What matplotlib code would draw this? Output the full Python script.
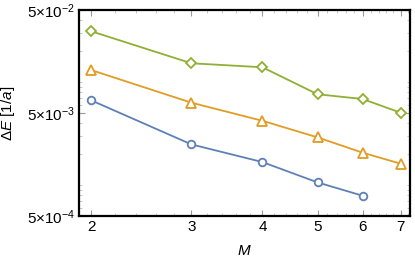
import numpy as np
import matplotlib
matplotlib.use("Agg")
import matplotlib.pyplot as plt
from matplotlib.ticker import FixedLocator, NullFormatter, FuncFormatter

plt.rcParams['font.family'] = ['Liberation Sans', 'DejaVu Sans']
plt.rcParams['mathtext.fontset'] = 'custom'
plt.rcParams['mathtext.rm'] = 'Liberation Sans'
plt.rcParams['mathtext.it'] = 'Liberation Sans:italic'
plt.rcParams['mathtext.sf'] = 'Liberation Sans'

# data
M_green = [2, 3, 4, 5, 6, 7]
dE_green = [0.0311, 0.0152, 0.0139, 0.0076, 0.00684, 0.00503]
M_orange = [2, 3, 4, 5, 6, 7]
dE_orange = [0.01306, 0.0063, 0.0042, 0.0029, 0.00206, 0.00161]
M_blue = [2, 3, 4, 5, 6]
dE_blue = [0.00664, 0.00248, 0.00167, 0.00106, 0.000787]

x_ticks = [2, 3, 4, 5, 6, 7]
y_ticks = [5e-4, 5e-3, 5e-2]
y_tick_labels = [r'$5{\times}10^{-4}$', r'$5{\times}10^{-3}$', r'$5{\times}10^{-2}$']

fig = plt.figure(figsize=(4.15, 2.64), dpi=100)
ax = fig.add_axes([79 / 415, 1 - 216 / 264, (410 - 79) / 415, (216 - 10) / 264])

ax.plot(M_blue, dE_blue, color='#5E81B5', lw=1.3, marker='o', ms=5.5,
        mfc='white', mec='#5E81B5', mew=1.3)
ax.plot(M_orange, dE_orange, color='#E19C24', lw=1.3, marker='^', ms=6.5,
        mfc='white', mec='#E19C24', mew=1.3)
ax.plot(M_green, dE_green, color='#8FB032', lw=1.3, marker='D', ms=5,
        mfc='white', mec='#8FB032', mew=1.3)

ax.set_xscale('log')
ax.set_yscale('log')
ax.set_xlim(1.904, 7.27)
ax.set_ylim(5e-4, 5e-2)

ax.xaxis.set_major_locator(FixedLocator(x_ticks))
ax.xaxis.set_major_formatter(FuncFormatter(lambda v, p: f"{v:g}"))
minor_x = [v for v in np.arange(2.0, 7.21, 0.2) if abs(v - round(v)) > 1e-6]
ax.xaxis.set_minor_locator(FixedLocator(minor_x))
ax.xaxis.set_minor_formatter(NullFormatter())

ax.yaxis.set_major_locator(FixedLocator(y_ticks))
ax.set_yticklabels(y_tick_labels)
minor_y = [k * 10.0 ** e for e in (-4, -3, -2) for k in range(1, 10)]
minor_y = [v for v in minor_y if 5e-4 < v < 5e-2 and v not in y_ticks]
ax.yaxis.set_minor_locator(FixedLocator(minor_y))
ax.yaxis.set_minor_formatter(NullFormatter())

ax.tick_params(which='major', direction='in', length=4, width=0.8, color='#999999',
               top=True, right=True, labelsize=11, pad=3)
ax.tick_params(which='minor', direction='in', length=2, width=0.6, color='#bbbbbb',
               top=True, right=True)

for s in ax.spines.values():
    s.set_linewidth(1.6)
    s.set_color('black')

ax.set_xlabel(r'$\mathit{M}$', fontsize=11, labelpad=7)
ax.set_ylabel(r'$\Delta\mathit{E}$ [$\mathit{1/a}$]', fontsize=11, labelpad=7)

fig.savefig('out.png', dpi=100)
